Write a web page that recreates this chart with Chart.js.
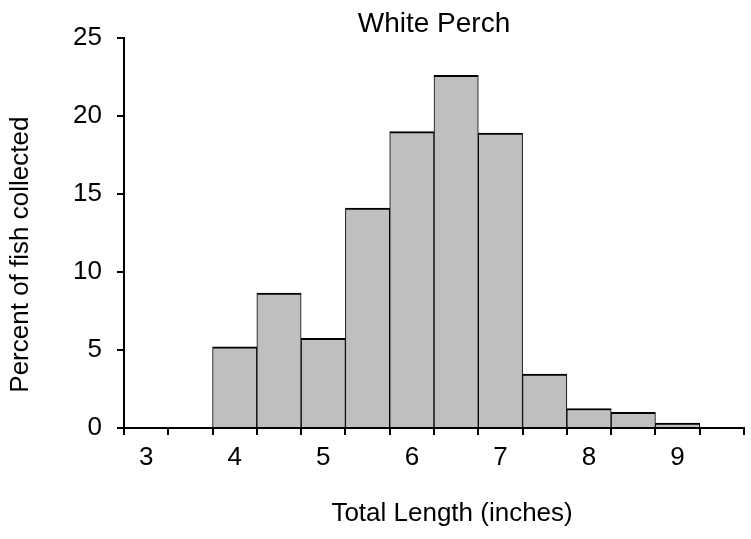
<!DOCTYPE html>
<html>
<head>
<meta charset="utf-8">
<script src="https://cdn.jsdelivr.net/npm/chart.js@4/dist/chart.umd.min.js"></script>
<style>
  html, body { margin: 0; padding: 0; background: #fff; }
  canvas { display: block; }
</style>
</head>
<body>
<canvas id="result-chart" width="751" height="539"></canvas>
<script>
// half-inch length bins
const lengthBins = ["3", "3.5", "4", "4.5", "5", "5.5", "6", "6.5", "7", "7.5", "8", "8.5", "9", "9.5"];
const percentCollected = [0, 0, 5.2, 8.65, 5.75, 14.1, 19.0, 22.6, 18.9, 3.45, 1.25, 1.0, 0.32, 0];
const yTicks = [0, 5, 10, 15, 20, 25];

const font = "'Liberation Sans', Arial, sans-serif";
const ctx = document.getElementById("result-chart").getContext("2d");

new Chart(ctx, {
    type: "bar",
    data: {
        labels: lengthBins,
        datasets: [{
            label: "White Perch",
            data: percentCollected,
            backgroundColor: "#bfbfbf",
            borderColor: "#000",
            borderWidth: { top: 2, left: 1, right: 1, bottom: 0 },
            borderSkipped: false,
            categoryPercentage: 1,
            barPercentage: 1
        }]
    },
    options: {
        responsive: false,
        animation: false,
        layout: { padding: { left: 0, right: 7, top: 0, bottom: 0 } },
        plugins: {
            legend: { display: false },
            tooltip: { enabled: false },
            title: {
                display: true,
                text: "White Perch",
                fullSize: false,
                color: "#000",
                font: { family: font, size: 28, weight: "normal", lineHeight: 1.0 },
                padding: { top: 10, bottom: 0 }
            }
        },
        scales: {
            x: {
                offset: true,
                grid: { display: true, offset: true, drawOnChartArea: false, drawTicks: true, tickLength: 7, color: "#000", lineWidth: 2 },
                border: { display: true, color: "#000", width: 2 },
                ticks: {
                    autoSkip: false,
                    maxRotation: 0,
                    padding: 7,
                    color: "#000",
                    font: { family: font, size: 26 },
                    callback: function (value) {
                        const lab = this.getLabelForValue(value);
                        return Number.isInteger(Number(lab)) ? lab : "";
                    }
                },
                title: {
                    display: true,
                    text: "\u00a0\u00a0\u00a0\u00a0\u00a0Total Length (inches)",
                    color: "#000",
                    font: { family: font, size: 26 },
                    padding: { top: 0, bottom: 10 }
                },
                afterFit: s => { s.height = 111; }
            },
            y: {
                min: 0,
                max: 25,
                afterBuildTicks: s => { s.ticks = yTicks.map(v => ({ value: v })); },
                grid: { display: true, drawOnChartArea: false, drawTicks: true, tickLength: 7, color: "#000", lineWidth: 2 },
                border: { display: true, color: "#000", width: 2 },
                ticks: {
                    padding: 15,
                    color: "#000",
                    font: { family: font, size: 26 }
                },
                title: {
                    display: true,
                    text: "Percent of fish collected\u00a0\u00a0\u00a0\u00a0\u00a0\u00a0",
                    color: "#000",
                    font: { family: font, size: 26 },
                    padding: { top: 5, bottom: 0 }
                },
                afterFit: s => { s.width = 124; }
            }
        }
    }
});
</script>
</body>
</html>
